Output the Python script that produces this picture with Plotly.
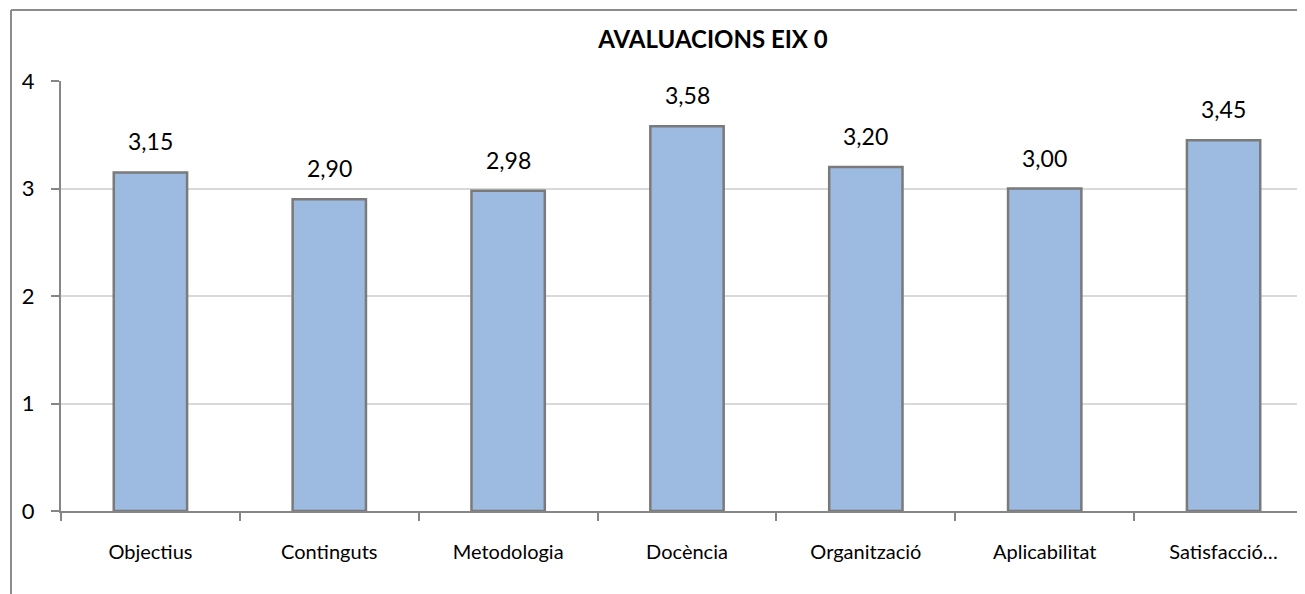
import plotly.graph_objects as go

categories = ["Objectius", "Continguts", "Metodologia", "Docència", "Organització", "Aplicabilitat", "Satisfacció…"]
values = [3.15, 2.90, 2.98, 3.58, 3.20, 3.00, 3.45]
labels = ["3,15", "2,90", "2,98", "3,58", "3,20", "3,00", "3,45"]
y_ticks = [0, 1, 2, 3, 4]
title_text = "AVALUACIONS EIX 0"

W, H = 1305, 594
OFF = 8  # page body margin
ML, MR, MT, MB = 61 - OFF, 0, 81 - OFF, H - (511 - OFF)
FONT = "Lato, Open Sans, sans-serif"

fig = go.Figure()
fig.add_trace(go.Bar(
    x=categories, y=values, width=0.41,
    marker=dict(color="#9DBBE1", line=dict(color="#7A7A7A", width=2.5)),
    hoverinfo="skip",
))

for c, v, t in zip(categories, values, labels):
    fig.add_annotation(x=c, y=v, text=t, showarrow=False, yanchor="bottom",
                       yshift=15, font=dict(size=23, color="#000000", family=FONT))

plot_w = W - ML - MR
plot_h = H - MT - MB
bx = (11 - OFF - ML) / plot_w
by = 1 + (MT - (10 - OFF)) / plot_h
fig.add_shape(type="line", xref="paper", yref="paper", x0=bx, x1=bx, y0=-0.4, y1=by,
              line=dict(color="#8C8C8C", width=2))
fig.add_shape(type="line", xref="paper", yref="paper", x0=bx, x1=1.2, y0=by, y1=by,
              line=dict(color="#8C8C8C", width=2))

fig.update_layout(
    width=W, height=H,
    margin=dict(l=ML, r=MR, t=MT, b=MB),
    paper_bgcolor="white", plot_bgcolor="white",
    showlegend=False,
    font=dict(family=FONT, color="#000000"),
    title=dict(text="<b>" + title_text + "</b>", x=(713 - OFF - ML) / plot_w, xref="paper",
               xanchor="center", y=1 - (40 - OFF) / H, yref="container", yanchor="middle",
               font=dict(size=24, family=FONT, color="#000000")),
)
fig.update_xaxes(
    type="category", range=[-0.5, 6.5],
    showline=True, linecolor="#868686", linewidth=2,
    ticks="outside", tickson="boundaries", ticklen=8, tickcolor="#868686", tickwidth=2,
    tickfont=dict(size=20, family=FONT), ticklabelstandoff=22,
    showgrid=False, zeroline=False,
)
fig.update_yaxes(
    range=[0, 4], tickvals=y_ticks,
    showline=True, linecolor="#868686", linewidth=2,
    ticks="outside", ticklen=8, tickcolor="#868686", tickwidth=2,
    tickfont=dict(size=22, family=FONT), ticklabelstandoff=12,
    showgrid=True, gridcolor="#D9D9D9", gridwidth=1.5, zeroline=False,
)

fig.write_html("out.html")
